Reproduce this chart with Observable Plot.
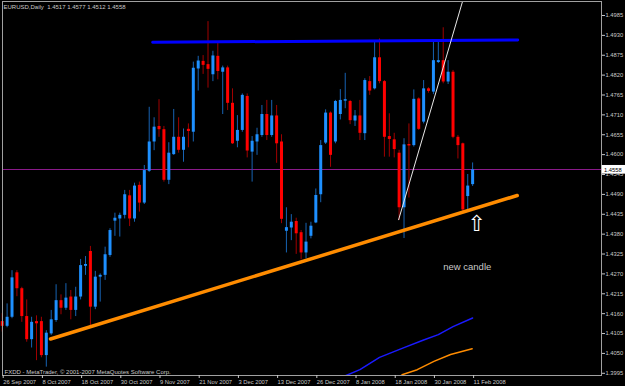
<!DOCTYPE html>
<html><head><meta charset="utf-8">
<script src="https://cdn.jsdelivr.net/npm/d3@7"></script>
<script src="https://cdn.jsdelivr.net/npm/@observablehq/plot@0.6"></script>
<style>html,body{margin:0;padding:0;background:#000;overflow:hidden}#chart svg{display:block}</style>
</head><body><div id="chart"></div>
<script>
// Daily EURUSD bars, 26 Sep 2007 (bar 0) .. 11 Feb 2008 (bar 96)
const opens = [1.4138,1.4125,1.4150,1.4273,1.4229,1.4152,1.4088,1.4138,1.4138,1.4044,
1.4104,1.4141,1.4196,1.4175,1.4206,1.4169,1.4206,1.4291,1.4332,1.4178,
1.4261,1.4266,1.4321,1.4416,1.4422,1.4432,1.4486,1.4422,1.4515,1.4466,
1.4554,1.4635,1.4678,1.4669,1.4529,1.4600,1.4648,1.4612,1.4670,1.4662,
1.4837,1.4858,1.4849,1.4821,1.4872,1.4828,1.4840,1.4742,1.4637,1.4667,
1.4761,1.4607,1.4635,1.4653,1.4711,1.4653,1.4707,1.4635,1.4388,1.4397,
1.4415,1.4384,1.4328,1.4374,1.4411,1.4489,1.4632,1.4715,1.4635,1.4711,
1.4748,1.4747,1.4693,1.4707,1.4658,1.4802,1.4782,1.4868,1.4802,1.4650,
1.4641,1.4604,1.4453,1.4628,1.4625,1.4754,1.4690,1.4782,1.4773,1.4855,
1.4860,1.4801,1.4828,1.4648,1.4630,1.4484,1.4517];
const highs = [1.4160,1.4187,1.4279,1.4279,1.4233,1.4198,1.4150,1.4154,1.4150,1.4113,
1.4169,1.4240,1.4212,1.4243,1.4224,1.4233,1.4310,1.4318,1.4346,1.4277,
1.4270,1.4344,1.4395,1.4438,1.4438,1.4501,1.4501,1.4521,1.4524,1.4570,
1.4731,1.4702,1.4752,1.4678,1.4633,1.4725,1.4702,1.4671,1.4685,1.4856,
1.4872,1.4874,1.4968,1.4886,1.4909,1.4845,1.4845,1.4782,1.4708,1.4768,
1.4768,1.4650,1.4673,1.4736,1.4750,1.4750,1.4736,1.4655,1.4453,1.4434,
1.4424,1.4390,1.4410,1.4413,1.4505,1.4639,1.4724,1.4718,1.4750,1.4780,
1.4825,1.4750,1.4722,1.4750,1.4810,1.4816,1.4914,1.4920,1.4805,1.4713,
1.4659,1.4612,1.4644,1.4685,1.4779,1.4757,1.4805,1.4785,1.4911,1.4916,
1.4951,1.4860,1.4833,1.4653,1.4632,1.4545,1.4577];
const lows = [1.4109,1.4121,1.4146,1.4207,1.4136,1.4081,1.4065,1.4030,1.4038,1.4012,
1.4100,1.4136,1.4157,1.4169,1.4143,1.4152,1.4198,1.4266,1.4123,1.4171,
1.4192,1.4252,1.4316,1.4374,1.4372,1.4422,1.4401,1.4413,1.4441,1.4462,
1.4551,1.4611,1.4648,1.4524,1.4517,1.4598,1.4604,1.4579,1.4619,1.4635,
1.4776,1.4822,1.4784,1.4802,1.4807,1.4711,1.4722,1.4628,1.4619,1.4662,
1.4591,1.4524,1.4598,1.4648,1.4639,1.4648,1.4576,1.4409,1.4328,1.4362,
1.4324,1.4309,1.4312,1.4367,1.4409,1.4467,1.4628,1.4565,1.4630,1.4696,
1.4727,1.4683,1.4678,1.4639,1.4639,1.4764,1.4779,1.4796,1.4593,1.4593,
1.4591,1.4418,1.4368,1.4480,1.4621,1.4667,1.4685,1.4770,1.4766,1.4852,
1.4796,1.4794,1.4644,1.4588,1.4438,1.4447,1.4512];
const closes = [1.4125,1.4150,1.4259,1.4229,1.4152,1.4088,1.4136,1.4132,1.4044,1.4106,
1.4143,1.4196,1.4175,1.4203,1.4169,1.4206,1.4293,1.4296,1.4178,1.4261,
1.4266,1.4323,1.4390,1.4424,1.4432,1.4489,1.4422,1.4513,1.4466,1.4556,
1.4635,1.4676,1.4669,1.4529,1.4604,1.4648,1.4612,1.4648,1.4664,1.4839,
1.4859,1.4847,1.4836,1.4873,1.4830,1.4840,1.4742,1.4630,1.4667,1.4764,
1.4610,1.4637,1.4655,1.4711,1.4653,1.4707,1.4630,1.4421,1.4398,1.4413,
1.4381,1.4328,1.4358,1.4402,1.4487,1.4625,1.4715,1.4598,1.4747,1.4750,
1.4752,1.4694,1.4707,1.4659,1.4805,1.4776,1.4868,1.4802,1.4648,1.4642,
1.4614,1.4453,1.4627,1.4624,1.4753,1.4670,1.4782,1.4775,1.4860,1.4860,
1.4801,1.4828,1.4648,1.4625,1.4447,1.4513,1.4558];

const dateTickBars = [0,8,16,24,32,40,48,56,64,72,80,88,96];
const dateLabels = ["26 Sep 2007","8 Oct 2007","18 Oct 2007","30 Oct 2007","9 Nov 2007","21 Nov 2007","3 Dec 2007","13 Dec 2007","26 Dec 2007","8 Jan 2008","18 Jan 2008","30 Jan 2008","11 Feb 2008"];
const priceTicks = [1.3995,1.4050,1.4105,1.4160,1.4215,1.4270,1.4325,1.4380,1.4435,1.4490,1.4545,1.4600,1.4655,1.4710,1.4765,1.4820,1.4875,1.4930,1.4985];

const resistanceBars = [30.7, 105.2];
const resistancePrices = [1.4911, 1.4917];
const supportBars = [9.86, 105.1];
const supportPrices = [1.4090, 1.4487];
const steepBars = [80.9, 93.9];
const steepPrices = [1.4420, 1.5022];
const maBlueBars = [70, 73, 77, 82, 86, 89, 92, 96];
const maBluePrices = [1.3988, 1.4005, 1.4039, 1.4066, 1.4087, 1.4102, 1.4124, 1.4148];
const maOrangeBars = [81.6, 84.7, 88.1, 91.5, 95.9];
const maOrangePrices = [1.3991, 1.4005, 1.4028, 1.4047, 1.4063];
const bid = 1.4558;
const titleText = "EURUSD,Daily  1.4517 1.4577 1.4512 1.4558";
const copyrightText = "FXDD - MetaTrader, \u00A9 2001-2007 MetaQuotes Software Corp.";
const noteText = "new candle";
const noteBar = 90.0, notePrice = 1.4288;
const arrowBar = 96.8, arrowPrice = 1.4409;

const candles = opens.map((o, i) => ({bar: i, open: o, high: highs[i], low: lows[i], close: closes[i], up: closes[i] >= o}));
const pts = (bars, prices) => bars.map((b, i) => ({bar: b, price: prices[i]}));

const fmt = d3.format(".4f");
const plot = Plot.plot({
  width: 625, height: 386,
  marginLeft: 2, marginRight: 24, marginTop: 1, marginBottom: 11,
  style: {background: "#000", color: "#c8c8c8", fontFamily: "'Liberation Sans', Arial, sans-serif"},
  x: {type: "linear", domain: [0.06, 122.3], axis: null, label: null},
  y: {domain: [1.39889, 1.50237], axis: null, label: null},
  marks: [
    Plot.ruleY([bid], {stroke: "#8a1a8a", strokeWidth: 1, shapeRendering: "crispEdges"}),
    Plot.ruleX(candles, {x: "bar", y1: "low", y2: "high", stroke: d => d.up ? "#1763b3" : "#a00000", strokeWidth: 1}),
    Plot.ruleX(candles, {x: "bar", y1: "open", y2: "close", stroke: d => d.up ? "#1e90ff" : "#ff0000", strokeWidth: 3}),
    Plot.line(pts(resistanceBars, resistancePrices), {x: "bar", y: "price", stroke: "#0000ff", strokeWidth: 3}),
    Plot.line(pts(supportBars, supportPrices), {x: "bar", y: "price", stroke: "#ff8c00", strokeWidth: 3.5}),
    Plot.line(pts(steepBars, steepPrices), {x: "bar", y: "price", stroke: "#e8e8e8", strokeWidth: 1, clip: true}),
    Plot.line(pts(maBlueBars, maBluePrices), {x: "bar", y: "price", stroke: "#1a1aff", strokeWidth: 1.5, clip: true}),
    Plot.line(pts(maOrangeBars, maOrangePrices), {x: "bar", y: "price", stroke: "#ff8c00", strokeWidth: 1.5, clip: true}),
    Plot.text([noteText], {x: noteBar, y: notePrice, text: d => d, textAnchor: "start", fill: "#c8c8c8", fontSize: 9.5}),
    Plot.text(["\u21E7"], {x: arrowBar, y: arrowPrice, text: d => d, fill: "#ffffff", fontSize: 22, fontFamily: "DejaVu Sans"}),
    Plot.text([titleText], {frameAnchor: "top-left", dx: 1, dy: 3, text: d => d, fill: "#c8c8c8", fontSize: 6, textAnchor: "start"}),
    Plot.text([copyrightText], {frameAnchor: "bottom-left", dx: 2, dy: -2, text: d => d, fill: "#c8c8c8", fontSize: 6, textAnchor: "start"}),
    Plot.frame({stroke: "#a0a0a0"}),
    Plot.axisY({anchor: "right", ticks: priceTicks, tickFormat: fmt, tickSize: 3, tickPadding: 1, fontSize: 5.8, color: "#c8c8c8", label: null}),
    Plot.axisX({anchor: "bottom", ticks: dateTickBars, tickFormat: (d, i) => dateLabels[i], tickSize: 3, tickPadding: 1, textAnchor: "start", dx: 1, fontSize: 5.8, color: "#c8c8c8", label: null}),
    Plot.rect([bid], {x1: 122.45, x2: 127.3, y1: d => d - 0.0012, y2: d => d + 0.0012, fill: "#ffffff"}),
    Plot.text([bid], {x: 122.8, y: d => d, text: fmt, fill: "#000", textAnchor: "start", fontSize: 5.8})
  ]
});
document.getElementById("chart").appendChild(plot);
</script>
</body></html>
